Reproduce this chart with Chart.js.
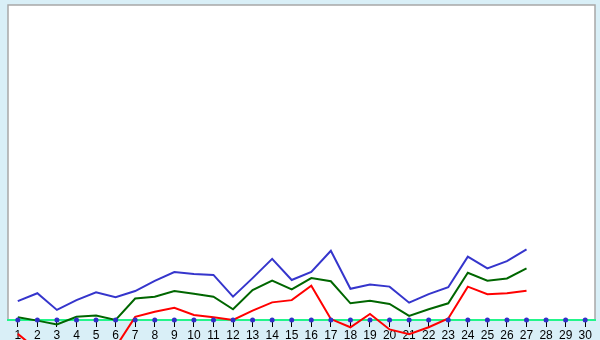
<!DOCTYPE html>
<html>
<head>
<meta charset="utf-8">
<script src="https://cdn.jsdelivr.net/npm/chart.js@4"></script>
<style>
  html, body { margin: 0; padding: 0; background: #d9eff7; }
  #wrap { width: 600px; height: 340px; }
</style>
</head>
<body>
<div id="wrap"><canvas id="chart" width="600" height="340"></canvas></div>
<script>
const days = Array.from({ length: 30 }, (_, i) => String(i + 1));

const blueSeries = [6.0, 8.5, 3.2, 6.3, 8.8, 7.2, 9.2, 12.4, 15.2, 14.6, 14.3, 7.4, 13.3, 19.4, 12.7,
  15.3, 22.0, 9.9, 11.3, 10.6, 5.5, 8.2, 10.4, 20.1, 16.4, 18.7, 22.4];
const greenSeries = [0.9, -0.2, -1.4, 1.0, 1.4, 0, 6.8, 7.4, 9.2, 8.3, 7.4, 3.4, 9.5, 12.5, 9.7,
  13.3, 12.3, 5.3, 6.1, 5.1, 1.3, 3.4, 5.3, 15.0, 12.5, 13.2, 16.4];
const redSeries = [-4.4, -9.5, -11.4, -10.2, -9.5, -8.6, 1.0, 2.6, 3.9, 1.6, 0.9, 0, 3.0, 5.6, 6.3,
  10.9, 0.3, -2.3, 1.9, -3.0, -4.5, -2.3, 0.5, 10.6, 8.2, 8.5, 9.3];
const baseline = days.map(() => 0);

// white plot box with grey frame on left, top, right
const plotFrame = {
  id: 'plotFrame',
  beforeDraw(chart) {
    const { ctx, chartArea: a } = chart;
    ctx.save();
    ctx.fillStyle = '#ffffff';
    ctx.fillRect(a.left, a.top, a.right - a.left, a.bottom - a.top);
    ctx.strokeStyle = '#a8a8a8';
    ctx.lineWidth = 1.5;
    ctx.beginPath();
    ctx.moveTo(a.left, a.bottom);
    ctx.lineTo(a.left, a.top);
    ctx.lineTo(a.right, a.top);
    ctx.lineTo(a.right, a.bottom);
    ctx.stroke();
    ctx.restore();
  },
};

const line = (data, color) => ({
  data, borderColor: color, borderWidth: 2, pointRadius: 0, tension: 0, fill: false, clip: false,
});

new Chart(document.getElementById('chart'), {
  type: 'line',
  data: {
    labels: days,
    datasets: [
      { data: baseline, showLine: false, pointRadius: 2.5, pointBackgroundColor: '#3030c8',
        pointBorderColor: '#3030c8', pointBorderWidth: 0, clip: false },
      line(redSeries, '#ff0000'),
      line(greenSeries, '#006600'),
      line(blueSeries, '#3535cc'),
    ],
  },
  options: {
    responsive: false,
    animation: false,
    layout: { padding: { left: 8, right: 5, top: 5, bottom: 0 } },
    plugins: { legend: { display: false }, tooltip: { enabled: false } },
    scales: {
      y: { display: false, min: 0, max: 100 },
      x: {
        offset: true,
        afterFit: s => { s.height = 20; },
        border: { display: true, color: '#22f58a', width: 2 },
        grid: { drawOnChartArea: false, drawTicks: true, tickLength: 7, tickColor: '#000000', tickWidth: 1 },
        ticks: { color: '#000000', padding: 1, maxRotation: 0, autoSkip: false,
          font: { family: 'Liberation Sans', size: 12 } },
      },
    },
  },
  plugins: [plotFrame],
});
</script>
</body>
</html>
